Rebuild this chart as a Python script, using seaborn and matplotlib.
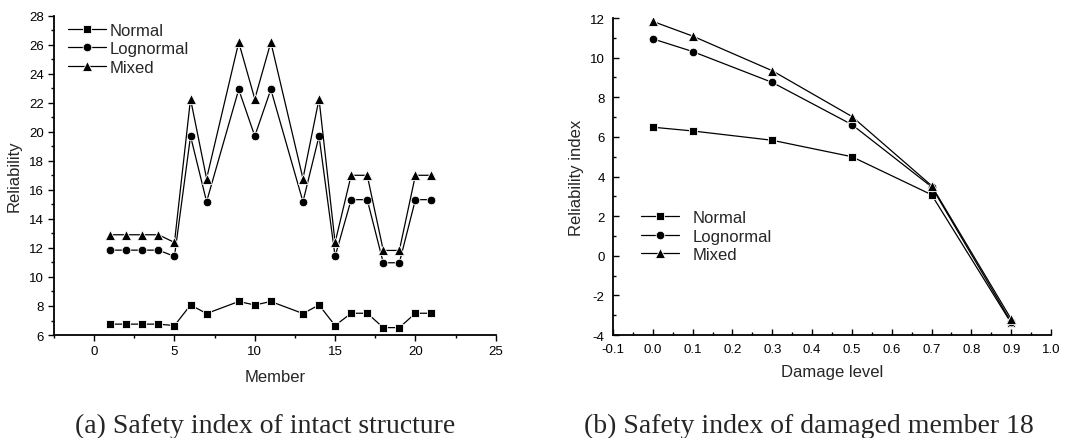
import numpy as np
import pandas as pd
import matplotlib
matplotlib.use("Agg")
import matplotlib.pyplot as plt
from matplotlib.ticker import MultipleLocator
import seaborn as sns

# ---- data: (a) intact structure ----
members = [1, 2, 3, 4, 5, 6, 7, 9, 10, 11, 13, 14, 15, 16, 17, 18, 19, 20, 21]
normal_a = [6.75, 6.75, 6.75, 6.75, 6.65, 8.07, 7.48, 8.31, 8.07, 8.31, 7.48, 8.07, 6.65, 7.50, 7.50, 6.51, 6.51, 7.50, 7.50]
lognormal_a = [11.85, 11.85, 11.85, 11.85, 11.42, 19.71, 15.19, 22.93, 19.71, 22.93, 15.19, 19.71, 11.42, 15.33, 15.33, 10.98, 10.98, 15.33, 15.33]
mixed_a = [12.91, 12.91, 12.91, 12.91, 12.38, 22.27, 16.78, 26.18, 22.27, 26.18, 16.78, 22.27, 12.38, 17.01, 17.01, 11.83, 11.83, 17.01, 17.01]

# ---- data: (b) damaged member 18 ----
damage = [0.0, 0.1, 0.3, 0.5, 0.7, 0.9]
normal_b = [6.49, 6.30, 5.83, 5.00, 3.08, -3.40]
lognormal_b = [10.95, 10.31, 8.75, 6.62, 3.48, -3.35]
mixed_b = [11.83, 11.09, 9.34, 7.03, 3.54, -3.20]

series = ["Normal", "Lognormal", "Mixed"]

df_a = pd.DataFrame({
    "x": members * 3,
    "y": normal_a + lognormal_a + mixed_a,
    "dist": sum([[s] * len(members) for s in series], []),
})
df_b = pd.DataFrame({
    "x": damage * 3,
    "y": normal_b + lognormal_b + mixed_b,
    "dist": sum([[s] * len(damage) for s in series], []),
})

sns.set_style("ticks")
plt.rcParams["font.family"] = ["Liberation Sans", "DejaVu Sans"]
plt.rcParams["axes.unicode_minus"] = False

fig = plt.figure(figsize=(10.8, 4.39), dpi=100)
ax1 = fig.add_axes([0.050, 0.2346, 0.409, 0.727])
ax2 = fig.add_axes([0.5676, 0.2346, 0.4056, 0.722])

pal = {s: "black" for s in series}
mk = {"Normal": "s", "Lognormal": "o", "Mixed": "^"}
msize = {"Normal": 6.0, "Lognormal": 6.2, "Mixed": 6.8}

for ax, df in ((ax1, df_a), (ax2, df_b)):
    sns.lineplot(data=df, x="x", y="y", hue="dist", style="dist", hue_order=series,
                 style_order=series, palette=pal, markers=mk, dashes=False,
                 linewidth=0.9, markersize=6, markeredgewidth=0.6,
                 legend=False, ax=ax, sort=False)
    for ln, s in zip(ax.get_lines()[:3], series):
        ln.set_markersize(msize[s])
    for sp in ("top", "right"):
        ax.spines[sp].set_visible(False)
    for sp in ("left", "bottom"):
        ax.spines[sp].set_linewidth(1.3)
        ax.spines[sp].set_color("black")

# left axes
ax1.set_xlim(-2.5, 25)
ax1.set_ylim(6, 28)
ax1.xaxis.set_major_locator(MultipleLocator(5))
ax1.xaxis.set_minor_locator(MultipleLocator(2.5))
ax1.yaxis.set_major_locator(MultipleLocator(2))
ax1.yaxis.set_minor_locator(MultipleLocator(1))
ax1.tick_params(which="both", direction="out", color="black", labelsize=9.5, width=1.0)
ax1.tick_params(which="major", length=4)
ax1.tick_params(which="minor", length=2.5)
ax1.set_xlabel("Member", fontsize=12, labelpad=8)
ax1.set_ylabel("Reliability", fontsize=12, labelpad=5)

# right axes
ax2.set_xlim(-0.1, 1.0)
ax2.set_ylim(-4, 12)
ax2.xaxis.set_minor_locator(MultipleLocator(0.05))
ax2.yaxis.set_major_locator(MultipleLocator(2))
ax2.yaxis.set_minor_locator(MultipleLocator(1))
xt = np.round(np.arange(-0.1, 1.01, 0.1), 1)
ax2.set_xticks(xt)
ax2.set_xticklabels([f"{v:.1f}" for v in xt])
ax2.tick_params(which="both", direction="in", color="black", labelsize=9.5, width=1.0)
ax2.tick_params(which="major", length=4)
ax2.tick_params(which="minor", length=2.5)
ax2.tick_params(axis="x", pad=6)
ax2.tick_params(axis="y", pad=6)
ax2.set_xlabel("Damage level", fontsize=12, labelpad=6)
ax2.set_ylabel("Reliability index", fontsize=12, labelpad=4)

for lab in ax1.get_xticklabels() + ax1.get_yticklabels() + ax2.get_xticklabels() + ax2.get_yticklabels():
    lab.set_color("black")

# legends
h1 = ax1.get_lines()[:3]
ax1.legend(h1, series, loc="center left", bbox_to_anchor=(0.032, 0.897), frameon=False,
           fontsize=12, handlelength=2.3, handletextpad=0.2, labelspacing=0.22,
           borderpad=0, borderaxespad=0)
h2 = ax2.get_lines()[:3]
ax2.legend(h2, series, loc="center left", bbox_to_anchor=(0.064, 0.312), frameon=False,
           fontsize=12, handlelength=2.3, handletextpad=0.8, labelspacing=0.22,
           borderpad=0, borderaxespad=0)

# captions
serif = ["Liberation Serif", "DejaVu Serif"]
fig.text(0.2455, 0.0137, "(a) Safety index of intact structure", ha="center", va="baseline",
         fontsize=20, family=serif)
fig.text(0.7486, 0.0137, "(b) Safety index of damaged member 18", ha="center", va="baseline",
         fontsize=20, family=serif)

fig.savefig("out.png", dpi=100)
